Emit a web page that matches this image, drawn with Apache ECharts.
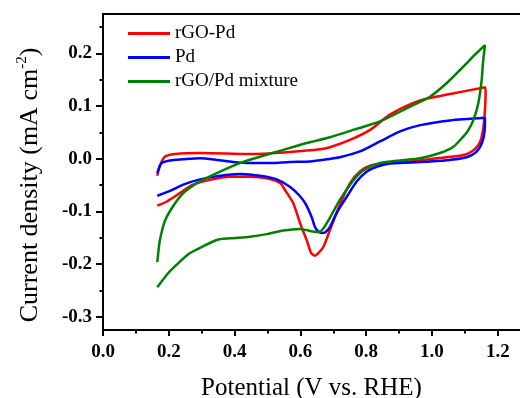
<!DOCTYPE html>
<html>
<head>
<meta charset="utf-8">
<script src="https://cdn.jsdelivr.net/npm/echarts@6/dist/echarts.min.js"></script>
<style>html,body{margin:0;padding:0;background:#fff}#c{width:520px;height:398px}</style>
</head>
<body>
<div id="c"></div>
<script>
// Potential (V vs. RHE), current density (mA cm-2) pairs, one closed CV loop per sample
var rgoPd = [
  [0.165,-0.032],[0.173,-0.013],[0.188,0.004],[0.219,0.009],[0.295,0.011],[0.447,0.009],
  [0.568,0.013],[0.660,0.018],[0.690,0.022],[0.751,0.036],[0.812,0.055],[0.872,0.084],
  [0.964,0.111],[1.055,0.123],[1.146,0.134],[1.161,0.136],
  [1.163,0.125],[1.160,0.084],[1.155,0.055],[1.146,0.032],[1.131,0.019],[1.109,0.010],
  [1.085,0.006],[1.055,0.004],[0.964,-0.003],[0.872,-0.008],[0.812,-0.013],[0.781,-0.024],
  [0.751,-0.046],[0.720,-0.087],[0.690,-0.135],[0.670,-0.167],[0.653,-0.180],[0.644,-0.184],
  [0.632,-0.178],[0.619,-0.154],[0.599,-0.122],[0.578,-0.084],[0.553,-0.059],[0.538,-0.046],
  [0.498,-0.037],[0.447,-0.034],[0.386,-0.034],[0.325,-0.040],[0.274,-0.049],[0.234,-0.065],
  [0.194,-0.081],[0.165,-0.089]
];
var pd = [
  [0.165,-0.027],[0.178,-0.008],[0.204,-0.003],[0.243,-0.001],[0.295,0.001],[0.346,-0.002],
  [0.395,-0.006],[0.447,-0.008],[0.508,-0.008],[0.568,-0.006],[0.629,-0.005],[0.680,-0.001],
  [0.720,0.003],[0.781,0.014],[0.842,0.033],[0.903,0.052],[0.964,0.064],[1.055,0.073],
  [1.161,0.078],
  [1.161,0.068],[1.155,0.036],[1.136,0.014],[1.105,0.003],[1.055,-0.002],[0.994,-0.005],
  [0.933,-0.007],[0.872,-0.009],[0.832,-0.015],[0.802,-0.024],[0.771,-0.043],[0.741,-0.072],
  [0.710,-0.103],[0.690,-0.129],[0.675,-0.140],[0.665,-0.141],[0.653,-0.137],[0.644,-0.129],
  [0.635,-0.112],[0.617,-0.087],[0.599,-0.071],[0.568,-0.053],[0.528,-0.039],[0.477,-0.032],
  [0.416,-0.029],[0.356,-0.032],[0.295,-0.039],[0.244,-0.049],[0.204,-0.061],[0.165,-0.070]
];
var rgoPdMixture = [
  [0.165,-0.196],[0.169,-0.173],[0.173,-0.154],[0.188,-0.118],[0.214,-0.089],[0.244,-0.065],
  [0.285,-0.046],[0.346,-0.027],[0.416,-0.008],[0.477,0.004],[0.548,0.017],[0.619,0.030],
  [0.690,0.041],[0.766,0.056],[0.842,0.071],[0.933,0.099],[0.994,0.118],[1.045,0.144],
  [1.095,0.175],[1.136,0.201],[1.161,0.216],
  [1.155,0.182],[1.151,0.150],[1.141,0.106],[1.126,0.074],[1.109,0.053],[1.095,0.042],
  [1.065,0.023],[1.024,0.011],[0.964,0.001],[0.903,-0.003],[0.842,-0.008],[0.812,-0.015],
  [0.781,-0.027],[0.751,-0.049],[0.720,-0.078],[0.695,-0.106],[0.670,-0.132],[0.657,-0.139],
  [0.638,-0.138],[0.599,-0.133],[0.548,-0.136],[0.498,-0.143],[0.447,-0.148],[0.386,-0.151],
  [0.346,-0.154],[0.295,-0.169],[0.264,-0.179],[0.224,-0.201],[0.194,-0.220],[0.165,-0.244]
];
var xMajorTicks = [0.0,0.2,0.4,0.6,0.8,1.0,1.2];
var xMinorTicks = [0.1,0.3,0.5,0.7,0.9,1.1];
var yMajorTicks = [-0.3,-0.2,-0.1,0.0,0.1,0.2];
var yMinorTicks = [-0.25,-0.15,-0.05,0.05,0.15,0.25];
var seriesNames = ['rGO-Pd','Pd','rGO/Pd mixture'];
var seriesColors = ['#ff0000','#0000ff','#008000'];

var FONT = '"Liberation Serif","Times New Roman",serif';
var X_MIN = 0, X_MAX = 1.2675, Y_MIN = -0.325, Y_MAX = 0.275;

var chart = echarts.init(document.getElementById('c'), null, {renderer:'canvas'});
var lineW = 2;
function baseX(extra){
  return Object.assign({type:'value', min:X_MIN, max:X_MAX, splitLine:{show:false},
    gridIndex:0}, extra);
}
function baseY(extra){
  return Object.assign({type:'value', min:Y_MIN, max:Y_MAX, splitLine:{show:false},
    gridIndex:0}, extra);
}
var LEGEND_ICON = 'path://M0,0L42,0L42,3L0,3Z';
var option = {
  animation:false,
  backgroundColor:'#fff',
  grid:{left:103, top:14, right:0, bottom:68, show:false, containLabel:false, outerBoundsMode:'none'},
  legend:{
    left:128, top:24, padding:0, orient:'vertical', itemWidth:42, itemHeight:14, itemGap:5,
    symbolKeepAspect:true,
    textStyle:{fontFamily:FONT, fontSize:19, color:'#000'},
    data:seriesNames.map(function(n){return {name:n, icon:LEGEND_ICON};})
  },
  xAxis:[
    baseX({position:'bottom',
      axisLine:{show:true, onZero:false, lineStyle:{color:'#000', width:lineW}},
      axisTick:{show:true, inside:false, length:6, customValues:xMajorTicks, lineStyle:{color:'#000', width:lineW}},
      axisLabel:{show:true, customValues:xMajorTicks, margin:13, color:'#000', fontFamily:FONT, fontWeight:'bold', fontSize:19,
        formatter:function(v){return v.toFixed(1);}},
      name:'Potential (V vs. RHE)', nameLocation:'middle', nameGap:46,
      nameTextStyle:{fontFamily:FONT, fontSize:25, color:'#000'}
    }),
    baseX({position:'bottom',
      axisLine:{show:false, onZero:false},
      axisTick:{show:true, inside:false, length:3.5, customValues:xMinorTicks, lineStyle:{color:'#000', width:lineW}},
      axisLabel:{show:false}
    }),
    baseX({position:'top',
      axisLine:{show:true, onZero:false, lineStyle:{color:'#000', width:lineW}},
      axisTick:{show:false}, axisLabel:{show:false}
    })
  ],
  yAxis:[
    baseY({position:'left',
      axisLine:{show:true, onZero:false, lineStyle:{color:'#000', width:lineW}},
      axisTick:{show:true, inside:false, length:7, customValues:yMajorTicks, lineStyle:{color:'#000', width:lineW}},
      axisLabel:{show:true, customValues:yMajorTicks, margin:11, color:'#000', fontFamily:FONT, fontWeight:'bold', fontSize:19,
        formatter:function(v){return v.toFixed(1);}},
      name:'{a|Current density (mA cm}{s|-2}{a|)}', nameLocation:'middle', nameGap:58, nameRotate:90,
      nameTextStyle:{fontFamily:FONT, fontSize:26, color:'#000', padding:[0,26,0,0],
        rich:{a:{fontFamily:FONT, fontSize:26, color:'#000', lineHeight:30},
              s:{fontFamily:FONT, fontSize:15, color:'#000', verticalAlign:'top', lineHeight:30, padding:[0,0,10,0]}}}
    }),
    baseY({position:'left',
      axisLine:{show:false, onZero:false},
      axisTick:{show:true, inside:false, length:3.5, customValues:yMinorTicks, lineStyle:{color:'#000', width:lineW}},
      axisLabel:{show:false}
    })
  ],
  series:[rgoPd, pd, rgoPdMixture].map(function(d, i){
    return {
      name:seriesNames[i], type:'line', xAxisIndex:0, yAxisIndex:0,
      data:d, showSymbol:false, symbol:'none', smooth:0.25,
      color:seriesColors[i],
      lineStyle:{color:seriesColors[i], width:2.5}
    };
  })
};
chart.setOption(option);
</script>
</body>
</html>
